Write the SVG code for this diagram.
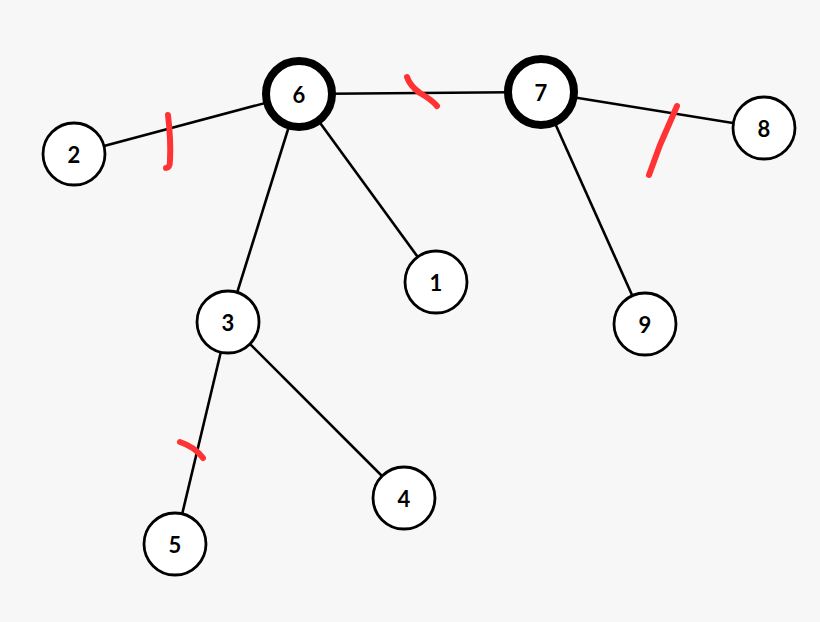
<svg xmlns="http://www.w3.org/2000/svg" width="820" height="622" viewBox="0 0 820 622">
<style>
.n{fill:#fff;stroke:#000;stroke-width:2.8}
.b{fill:#fff;stroke:#000;stroke-width:8}
.t{font-family:Lato,"Liberation Sans",sans-serif;font-weight:bold;font-size:22px;text-anchor:middle;dominant-baseline:central;fill:#000}
.e{stroke:#000;stroke-width:2.6;fill:none}
.m{stroke:#f33;stroke-width:6;fill:none;stroke-linecap:round;stroke-linejoin:round}
</style>
<rect width="820" height="622" fill="#f7f7f7"/>
<g id="connectors">
<line class="e" x1="74" y1="154" x2="299" y2="94"/>
<line class="e" x1="299" y1="94" x2="541" y2="92"/>
<line class="e" x1="541" y1="92" x2="764" y2="128"/>
<line class="e" x1="299" y1="94" x2="436" y2="282"/>
<line class="e" x1="299" y1="94" x2="228" y2="322"/>
<line class="e" x1="541" y1="92" x2="645" y2="324"/>
<line class="e" x1="228" y1="322" x2="404" y2="498"/>
<line class="e" x1="228" y1="322" x2="175" y2="544"/>
</g>
<g id="marks">
<path class="m" d="M168,115 Q171,140 170,160 Q170,168 166,168"/>
<path class="m" d="M407,77 Q410,86 420,93 Q432,100 437,106"/>
<path class="m" d="M677,106 L660,145 L649,175"/>
<path class="m" d="M180,442 Q195,447 203,458"/>
</g>
<g id="node2"><circle class="n" cx="74" cy="154" r="31"/><text class="t" x="74" y="154">2</text></g>
<g id="node6"><circle class="b" cx="299" cy="94" r="33"/><text class="t" x="299" y="94">6</text></g>
<g id="node7"><circle class="b" cx="541" cy="92" r="33"/><text class="t" x="541" y="92">7</text></g>
<g id="node8"><circle class="n" cx="764" cy="128" r="31"/><text class="t" x="764" y="128">8</text></g>
<g id="node1"><circle class="n" cx="436" cy="282" r="31"/><text class="t" x="436" y="282">1</text></g>
<g id="node3"><circle class="n" cx="228" cy="322" r="31"/><text class="t" x="228" y="322">3</text></g>
<g id="node9"><circle class="n" cx="645" cy="324" r="31"/><text class="t" x="645" y="324">9</text></g>
<g id="node4"><circle class="n" cx="404" cy="498" r="31"/><text class="t" x="404" y="498">4</text></g>
<g id="node5"><circle class="n" cx="175" cy="544" r="31"/><text class="t" x="175" y="544">5</text></g>
</svg>
